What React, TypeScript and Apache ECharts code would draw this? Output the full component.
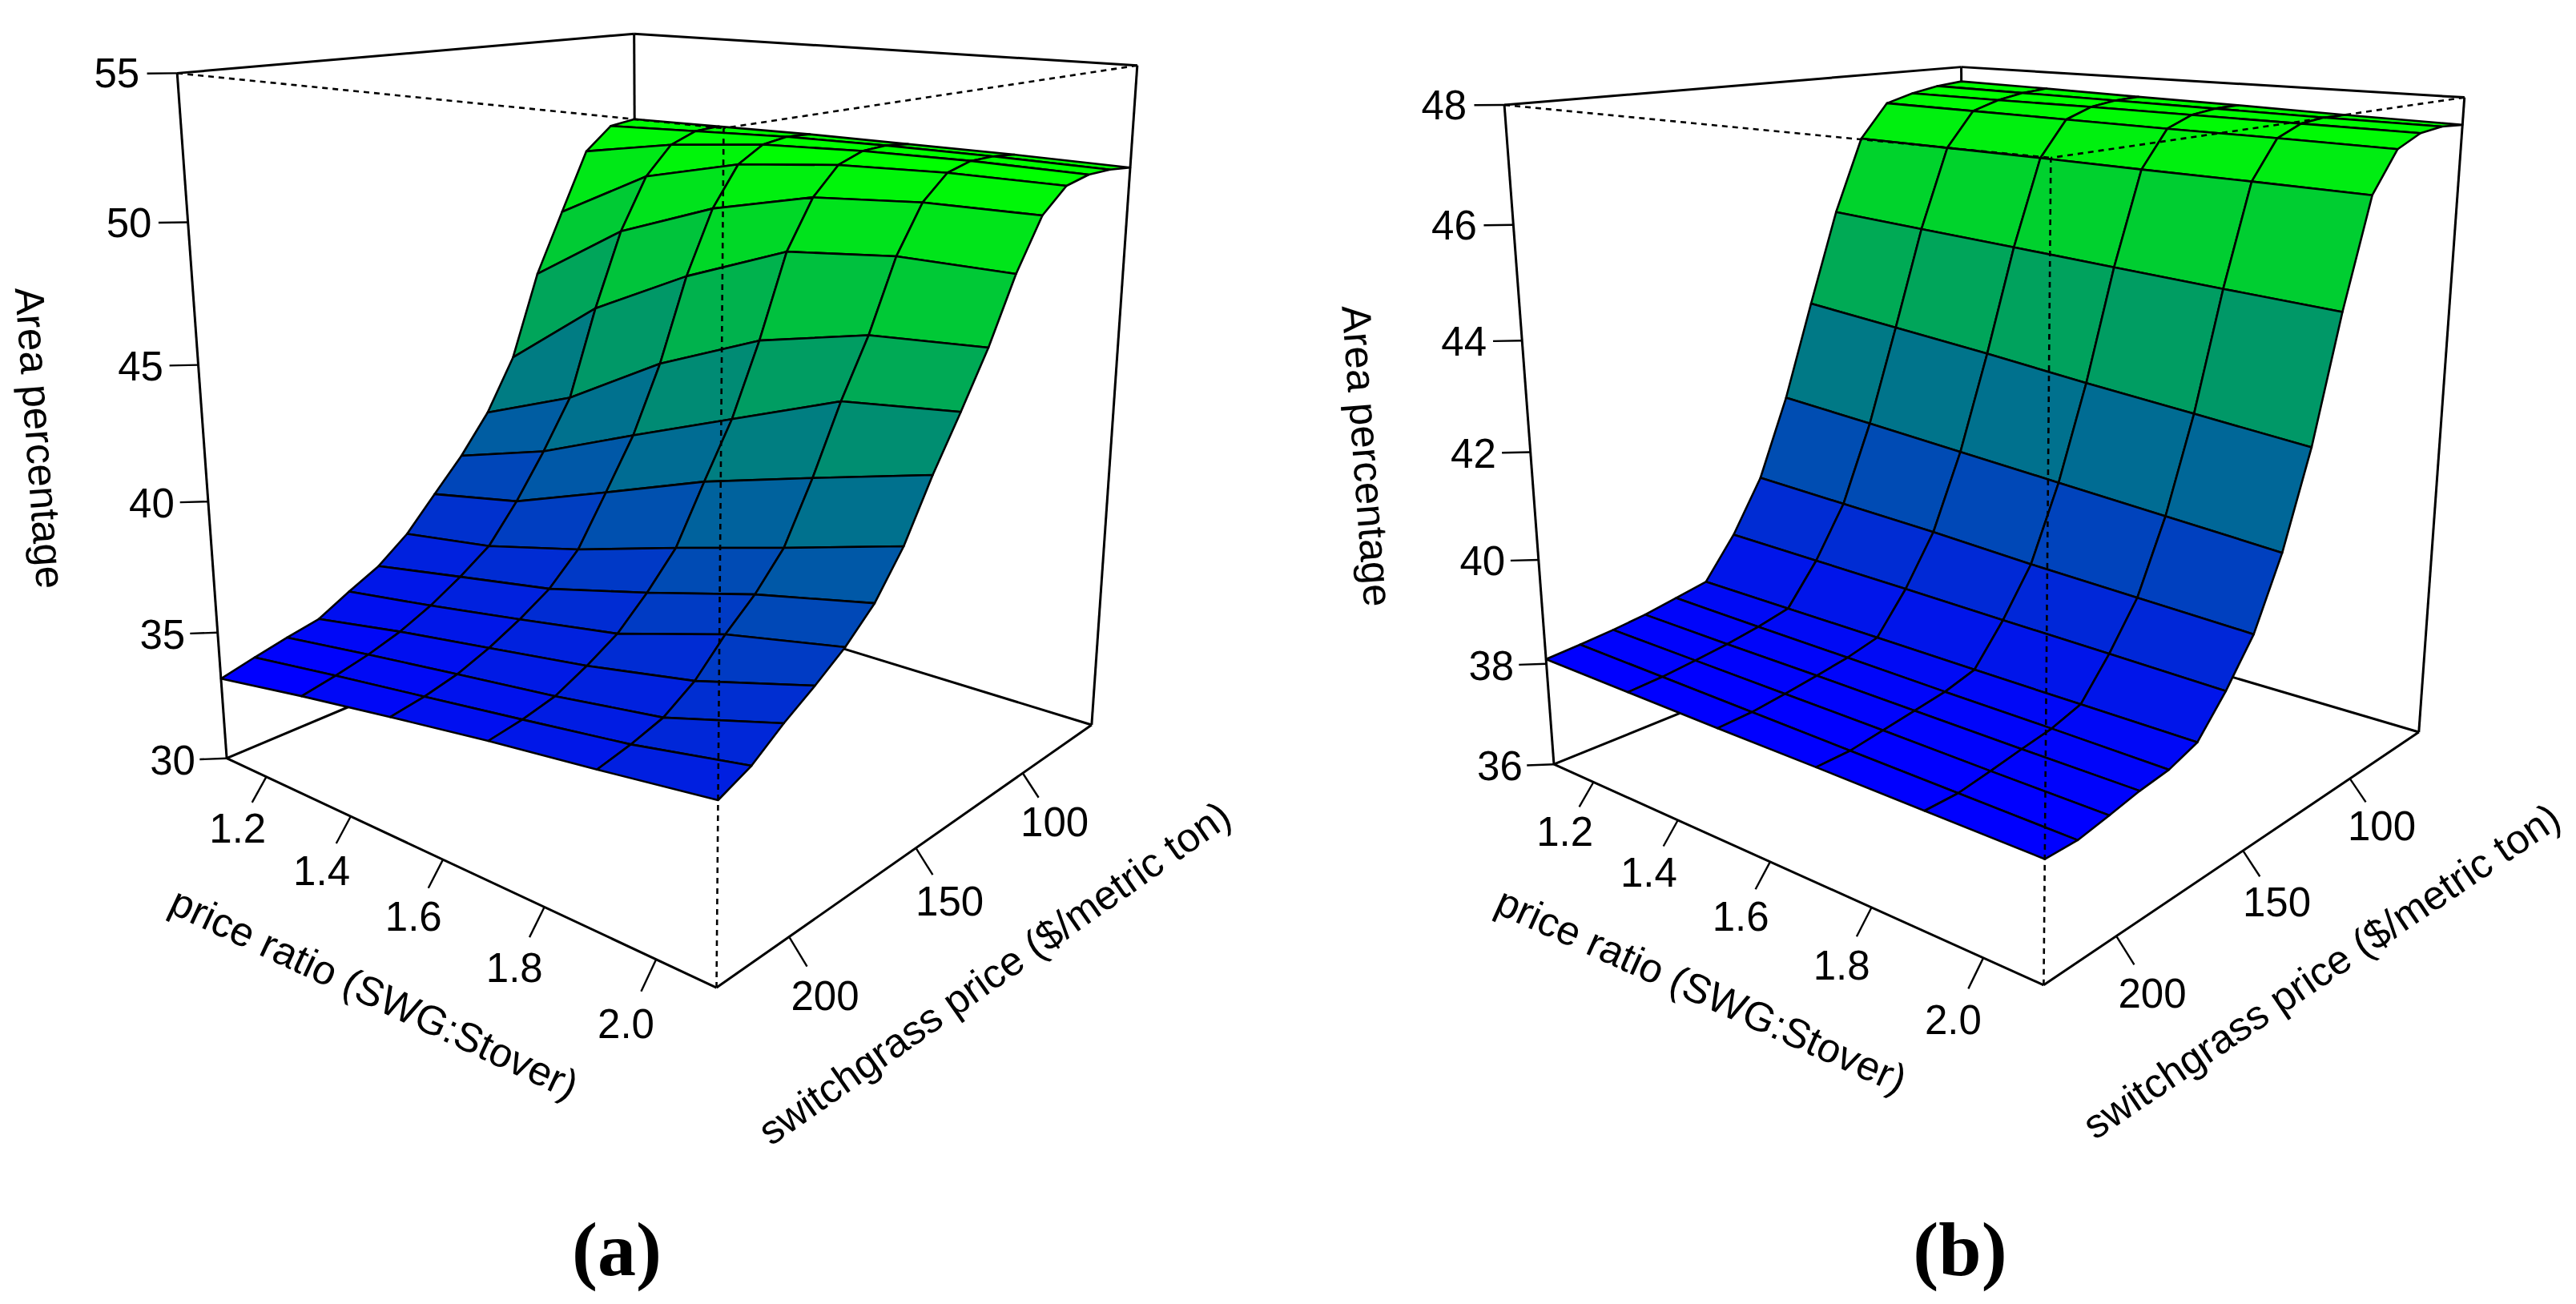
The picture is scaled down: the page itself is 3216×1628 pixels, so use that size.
import React, { useEffect, useRef } from "react";
import * as echarts from "echarts";

const REF_W = 3216;
const REF_H = 1628;

// ---------- grid ----------
const RATIOS = [1.1, 1.3, 1.5, 1.7, 1.9, 2.1];
const PRICES = [225, 214.2, 203.4, 192.6, 181.8, 171, 160.2, 149.4, 138.6, 127.8, 117, 106.2, 95.4, 84.6, 73.8, 63];

// ---------- panel (a): area percentage, one list per price ratio (prices high -> low) ----------
const A_R11 = [33.19, 33.52, 33.82, 34.09, 34.75, 35.36, 36.28, 37.55, 38.8, 40.29, 42.32, 45.59, 47.98, 50.34, 51.25, 51.4];
const A_R13 = [33.85, 34.1, 34.4, 34.8, 35.35, 36.04, 36.84, 38.24, 39.89, 41.73, 45.05, 47.9, 49.9, 51.0, 51.4, 51.45];
const A_R15 = [34.45, 34.65, 34.95, 35.42, 36.01, 36.71, 37.78, 39.58, 41.42, 43.86, 46.94, 49.3, 50.8, 51.4, 51.55, 51.5];
const A_R17 = [35.02, 35.2, 35.48, 36.04, 36.7, 37.72, 38.92, 40.95, 42.89, 45.46, 48.44, 50.2, 51.2, 51.55, 51.6, 51.5];
const A_R19 = [35.52, 35.77, 36.11, 36.82, 37.91, 38.82, 40.0, 42.04, 44.36, 46.36, 48.84, 50.5, 51.35, 51.6, 51.6, 51.5];
const A_R21 = [36.06, 36.54, 37.32, 37.99, 38.73, 39.69, 41.13, 43.09, 44.83, 46.65, 48.83, 50.55, 51.35, 51.55, 51.55, 51.45];

// ---------- panel (b) ----------
const B_R11 = [38.09, 38.14, 38.2, 38.28, 38.4, 38.52, 39.3, 40.3, 41.8, 43.6, 45.35, 46.75, 47.4, 47.55, 47.65, 47.7];
const B_R13 = [38.08, 38.12, 38.19, 38.27, 38.38, 38.52, 39.27, 40.22, 41.66, 43.42, 45.24, 46.73, 47.38, 47.54, 47.63, 47.67];
const B_R15 = [38.07, 38.1, 38.18, 38.27, 38.37, 38.52, 39.24, 40.14, 41.51, 43.24, 45.13, 46.71, 47.36, 47.54, 47.61, 47.63];
const B_R17 = [38.07, 38.08, 38.17, 38.26, 38.35, 38.51, 39.2, 40.03, 41.36, 43.04, 45.02, 46.68, 47.34, 47.53, 47.59, 47.6];
const B_R19 = [38.06, 38.06, 38.15, 38.25, 38.34, 38.51, 39.17, 39.95, 41.21, 42.86, 44.91, 46.66, 47.33, 47.52, 47.57, 47.56];
const B_R21 = [38.05, 38.04, 38.14, 38.25, 38.32, 38.51, 39.13, 39.87, 41.06, 42.68, 44.81, 46.63, 47.31, 47.51, 47.56, 47.53];

// ---------- ticks & titles ----------
const RATIO_TICKS = [1.2, 1.4, 1.6, 1.8, 2.0];
const PRICE_TICKS = [100, 150, 200];
const A_Z_TICKS = [30, 35, 40, 45, 50, 55];
const B_Z_TICKS = [36, 38, 40, 42, 44, 46, 48];
const A_Z_RANGE = [30, 55];
const B_Z_RANGE = [36, 48];
const RATIO_TITLE = "price ratio (SWG:Stover)";
const PRICE_TITLE = "switchgrass price ($/metric ton)";
const Z_TITLE = "Area percentage";

// ---------- view (persp-like) ----------
const THETA = 130;
const PHI = 16.03;
const EYE = 5.7225;
const EXPAND = 1.08;
const TICK = 0.06;
const D2R = Math.PI / 180;
const CT = Math.cos(THETA * D2R);
const ST = Math.sin(THETA * D2R);
const CP = Math.cos(PHI * D2R);
const SP = Math.sin(PHI * D2R);
const FONT = "'Liberation Sans', Arial, Helvetica, sans-serif";
const FS = 51;

const P_MIN = Math.min(...PRICES);
const P_MAX = Math.max(...PRICES);
const R_MIN = Math.min(...RATIOS);
const R_MAX = Math.max(...RATIOS);

type Panel = {
  z: number[][];
  zr: number[];
  zTicks: number[];
  cx: number;
  cy: number;
  kx: number;
  ky: number;
  tag: string;
  tagX: number;
  tagY: number;
};

const PANELS: Panel[] = [
  { z: [A_R11, A_R13, A_R15, A_R17, A_R19, A_R21], zr: A_Z_RANGE, zTicks: A_Z_TICKS, cx: 833.6, cy: 527.8, kx: 2306.4, ky: 2306.4, tag: "(a)", tagX: 770, tagY: 1559 },
  { z: [B_R11, B_R13, B_R15, B_R17, B_R19, B_R21], zr: B_Z_RANGE, zTicks: B_Z_TICKS, cx: 2490.5, cy: 551, kx: 2306.4, ky: 2220, tag: "(b)", tagX: 2447, tagY: 1559 },
];

const nx = (p: number) => (2 * p - P_MIN - P_MAX) / (P_MAX - P_MIN);
const ny = (r: number) => (2 * r - R_MIN - R_MAX) / (R_MAX - R_MIN);
const nz = (P: Panel, z: number) => ((2 * z - P.zr[0] - P.zr[1]) / (P.zr[1] - P.zr[0])) * EXPAND;

function view(X: number, Y: number, Z: number) {
  const X1 = X * CT + Y * ST;
  const Z1 = X * ST - Y * CT;
  const Y2 = Z * CP - Z1 * SP;
  const Z2 = Z * SP + Z1 * CP;
  return [X1, Y2, EYE - Z2];
}

function scr(P: Panel, X: number, Y: number, Z: number, W: number, H: number) {
  const [X1, Y2, w] = view(X, Y, Z);
  return [((P.cx + (P.kx * X1) / w) * W) / REF_W, ((P.cy - (P.ky * Y2) / w) * H) / REF_H];
}

function facetItems(P: Panel) {
  const items: number[][] = [];
  for (let j = 0; j < RATIOS.length - 1; j++) {
    for (let i = 0; i < PRICES.length - 1; i++) {
      const zm = (P.z[j][i] + P.z[j][i + 1] + P.z[j + 1][i + 1] + P.z[j + 1][i]) / 4;
      const X = (nx(PRICES[i]) + nx(PRICES[i + 1])) / 2;
      const Y = (ny(RATIOS[j]) + ny(RATIOS[j + 1])) / 2;
      const depth = view(X, Y, nz(P, zm))[2];
      items.push([i, j, zm, depth]);
    }
  }
  items.sort((a, b) => b[3] - a[3]);
  return items;
}

function edgePoint(dir: number, a: number, b: number, t: number) {
  if (dir === 0) return [t, a, b * EXPAND];
  if (dir === 1) return [a, t, b * EXPAND];
  return [a, b, t * EXPAND];
}

function buildSeries(P: Panel) {
  const series: any[] = [];
  const edges: number[][] = [];
  for (let d = 0; d < 3; d++) for (const a of [-1, 1]) for (const b of [-1, 1]) edges.push([d, a, b]);
  const back = edges.filter((e) => !(e[1] === 1 && e[2] === 1));
  const front = edges.filter((e) => e[1] === 1 && e[2] === 1);

  const edgeRender = (dashed: boolean) => (_p: any, api: any) => {
    const W = api.getWidth();
    const H = api.getHeight();
    const d = api.value(0);
    const a = api.value(1);
    const b = api.value(2);
    const p1 = edgePoint(d, a, b, -1);
    const p2 = edgePoint(d, a, b, 1);
    const s1 = scr(P, p1[0], p1[1], p1[2], W, H);
    const s2 = scr(P, p2[0], p2[1], p2[2], W, H);
    return {
      type: "line",
      shape: { x1: s1[0], y1: s1[1], x2: s2[0], y2: s2[1] },
      style: { stroke: "#000", lineWidth: dashed ? 2.6 : 3, lineDash: dashed ? [7, 6] : null },
    };
  };

  series.push({ type: "custom", coordinateSystem: "none", silent: true, z: 1, data: back, renderItem: edgeRender(false) });

  const items = facetItems(P);
  let fMin = Infinity;
  let fMax = -Infinity;
  items.forEach((it) => {
    fMin = Math.min(fMin, it[2]);
    fMax = Math.max(fMax, it[2]);
  });
  series.push({
    type: "custom",
    coordinateSystem: "none",
    silent: true,
    z: 2,
    data: items,
    renderItem: (_p: any, api: any) => {
      const W = api.getWidth();
      const H = api.getHeight();
      const i = api.value(0);
      const j = api.value(1);
      const zm = api.value(2);
      const corners = [
        [i, j],
        [i + 1, j],
        [i + 1, j + 1],
        [i, j + 1],
      ];
      const pts = corners.map(([a, b]) => scr(P, nx(PRICES[a]), ny(RATIOS[b]), nz(P, P.z[b][a]), W, H));
      const f = (zm - fMin) / (fMax - fMin);
      const bin = Math.max(0, Math.min(99, Math.floor(f * 100)));
      const g = Math.round((255 * bin) / 99);
      return {
        type: "polygon",
        shape: { points: pts },
        style: { fill: `rgb(0,${g},${255 - g})`, stroke: "#000", lineWidth: 2.6, lineJoin: "round" },
      };
    },
  });

  series.push({ type: "custom", coordinateSystem: "none", silent: true, z: 3, data: front, renderItem: edgeRender(true) });

  // ticks: [axis, value]
  const ticks: number[][] = [];
  RATIO_TICKS.forEach((v) => ticks.push([0, v]));
  PRICE_TICKS.forEach((v) => ticks.push([1, v]));
  P.zTicks.forEach((v) => ticks.push([2, v]));

  const base = (axis: number, v: number) => {
    if (axis === 0) return { b: [1, ny(v), -EXPAND], t: [TICK, 0, -TICK * EXPAND] };
    if (axis === 1) return { b: [nx(v), 1, -EXPAND], t: [0, TICK, -TICK * EXPAND] };
    return { b: [1, -1, nz(P, v)], t: [TICK, -TICK, 0] };
  };

  series.push({
    type: "custom",
    coordinateSystem: "none",
    silent: true,
    z: 4,
    data: ticks,
    renderItem: (_p: any, api: any) => {
      const W = api.getWidth();
      const H = api.getHeight();
      const axis = api.value(0);
      const v = api.value(1);
      const { b, t } = base(axis, v);
      const s0 = scr(P, b[0], b[1], b[2], W, H);
      const s1 = scr(P, b[0] + t[0], b[1] + t[1], b[2] + t[2], W, H);
      const s2 = scr(P, b[0] + 2 * t[0], b[1] + 2 * t[1], b[2] + 2 * t[2], W, H);
      const label = axis === 0 ? v.toFixed(1) : String(v);
      return {
        type: "group",
        children: [
          { type: "line", shape: { x1: s0[0], y1: s0[1], x2: s1[0], y2: s1[1] }, style: { stroke: "#000", lineWidth: 2.4 } },
          {
            type: "text",
            x: s2[0],
            y: s2[1],
            style: { text: label, fill: "#000", fontSize: FS, fontFamily: FONT, align: "center", verticalAlign: "middle" },
          },
        ],
      };
    },
  });

  // axis titles: [axis]
  series.push({
    type: "custom",
    coordinateSystem: "none",
    silent: true,
    z: 4,
    data: [[0], [1], [2]],
    renderItem: (_p: any, api: any) => {
      const W = api.getWidth();
      const H = api.getHeight();
      const axis = api.value(0);
      let b: number[];
      let t: number[];
      let e1: number[];
      let e2: number[];
      let text: string;
      let f: number;
      if (axis === 0) {
        b = [1, ny(1.6), -EXPAND];
        t = [TICK, 0, -TICK * EXPAND];
        e1 = [1, -1, -EXPAND];
        e2 = [1, 1, -EXPAND];
        text = RATIO_TITLE;
        f = 4.6;
      } else if (axis === 1) {
        b = [nx(150), 1, -EXPAND];
        t = [0, TICK, -TICK * EXPAND];
        e1 = [-1, 1, -EXPAND];
        e2 = [1, 1, -EXPAND];
        text = PRICE_TITLE;
        f = 4.6;
      } else {
        b = [1, -1, 0];
        t = [TICK, -TICK, 0];
        e1 = [1, -1, -EXPAND];
        e2 = [1, -1, EXPAND];
        text = Z_TITLE;
        f = 5.7;
      }
      const c = scr(P, b[0] + f * t[0], b[1] + f * t[1], b[2] + f * t[2], W, H);
      const a1 = scr(P, e1[0], e1[1], e1[2], W, H);
      const a2 = scr(P, e2[0], e2[1], e2[2], W, H);
      let ang = Math.atan2(-(a2[1] - a1[1]), a2[0] - a1[0]) / D2R;
      if (ang > 90) ang -= 180;
      else if (ang < -90) ang += 180;
      return {
        type: "text",
        x: c[0],
        y: c[1],
        rotation: ang * D2R,
        style: { text, fill: "#000", fontSize: FS, fontFamily: FONT, align: "center", verticalAlign: "middle" },
      };
    },
  });

  return series;
}

function buildOption() {
  const series: any[] = [];
  PANELS.forEach((P) => series.push(...buildSeries(P)));
  return {
    animation: false,
    backgroundColor: "#ffffff",
    graphic: PANELS.map((P) => ({
      type: "text",
      x: P.tagX,
      y: P.tagY,
      silent: true,
      style: {
        text: P.tag,
        fill: "#000",
        fontSize: 96,
        fontWeight: "bold",
        fontFamily: "'Liberation Serif', 'Times New Roman', serif",
        align: "center",
        verticalAlign: "middle",
      },
    })),
    series,
  };
}

export default function App() {
  const ref = useRef<HTMLDivElement>(null);
  useEffect(() => {
    document.body.style.margin = "0";
    document.body.style.overflow = "hidden";
    const chart = echarts.init(ref.current as HTMLDivElement, null, { renderer: "svg" });
    chart.setOption(buildOption() as any);
    return () => chart.dispose();
  }, []);
  return <div ref={ref} style={{ width: REF_W, height: REF_H }} />;
}
